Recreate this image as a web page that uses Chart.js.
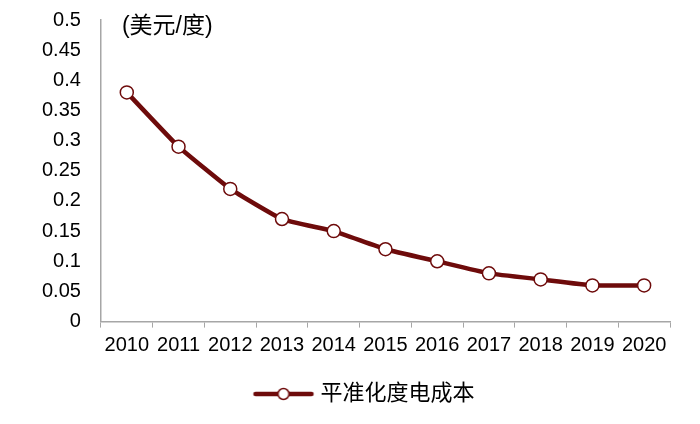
<!DOCTYPE html>
<html>
<head>
<meta charset="utf-8">
<script src="https://cdn.jsdelivr.net/npm/chart.js@4"></script>
<style>
  html, body { margin: 0; padding: 0; background: #fff; overflow: hidden; }
  /* shifted up: chart.js keeps ~30px above the plot that the original does not have */
  #wrap { width: 700px; height: 436px; margin-top: -12px; position: relative; }
</style>
</head>
<body>
<div id="wrap"><canvas id="myChart"></canvas></div>
<script>
// data
var years = ['2010','2011','2012','2013','2014','2015','2016','2017','2018','2019','2020'];
var lcoe = [0.38, 0.29, 0.22, 0.17, 0.15, 0.12, 0.10, 0.08, 0.07, 0.06, 0.06];
var yTickLabels = ['0','0.05','0.1','0.15','0.2','0.25','0.3','0.35','0.4','0.45','0.5'];
var seriesName = '平准化度电成本';
var unitLabel = '(美元/度)';

var lineColor = '#6e0b0b';
var fontFam = '"Liberation Sans", Arial, "Noto Sans CJK SC", sans-serif';

// little picture for the legend: line with an open circle
var legendIcon = document.createElement('canvas');
legendIcon.width = 66;
legendIcon.height = 14;
var lc = legendIcon.getContext('2d');
lc.strokeStyle = lineColor;
lc.lineWidth = 4.5;
lc.lineCap = 'round';
lc.beginPath(); lc.moveTo(5, 7); lc.lineTo(61, 7); lc.stroke();
lc.fillStyle = '#fff';
lc.lineWidth = 1.5;
lc.beginPath(); lc.arc(33, 7, 5.5, 0, Math.PI * 2); lc.fill(); lc.stroke();

var unitPlugin = {
  id: 'unitText',
  afterLayout: function(chart) {
    // legend sits a bit right of centre in the original
    chart.legend.left += 20;
    chart.legend.right += 20;
  },
  afterDraw: function(chart) {
    var c = chart.ctx;
    c.save();
    c.font = '23px ' + fontFam;
    c.fillStyle = '#000';
    c.textBaseline = 'middle';
    c.fillText(unitLabel, chart.chartArea.left + 21, chart.chartArea.top + 7);
    c.restore();
  }
};

var ctx = document.getElementById('myChart').getContext('2d');
var myChart = new Chart(ctx, {
  type: 'line',
  data: {
    labels: years,
    datasets: [{
      label: seriesName,
      data: lcoe,
      borderColor: lineColor,
      borderWidth: 4.5,
      backgroundColor: '#fff',
      pointBackgroundColor: '#fff',
      pointBorderColor: lineColor,
      pointBorderWidth: 1.5,
      pointRadius: 6.5,
      pointStyle: 'circle',
      tension: 0.12,
      fill: false
    }]
  },
  options: {
    responsive: true,
    maintainAspectRatio: false,
    animation: false,
    layout: { autoPadding: false, padding: { left: 22, right: 30, top: 7, bottom: 9 } },
    scales: {
      x: {
        offset: true,
        grid: { display: true, offset: true, drawOnChartArea: false, drawTicks: true, tickLength: 6, color: '#a6a6a6' },
        border: { display: true, color: '#a6a6a6', width: 1.5 },
        ticks: { color: '#000', font: { family: fontFam, size: 20 }, padding: 6, maxRotation: 0, autoSkip: false },
        title: { display: true, text: ' ', font: { size: 2 }, padding: { top: 0, bottom: 7 } }
      },
      y: {
        min: 0,
        max: 0.5,
        grid: { display: false, drawTicks: false },
        border: { display: true, color: '#a6a6a6', width: 1.5 },
        ticks: {
          stepSize: 0.05,
          color: '#000',
          padding: 20,
          font: { family: fontFam, size: 20 },
          callback: function(v, i) { return yTickLabels[i]; }
        }
      }
    },
    plugins: {
      legend: {
        position: 'bottom',
        labels: {
          usePointStyle: true,
          pointStyleWidth: 52,
          color: '#000',
          font: { family: fontFam, size: 22 },
          padding: 10,
          generateLabels: function(chart) {
            return [{ text: seriesName, pointStyle: legendIcon, fillStyle: '#fff', strokeStyle: lineColor, lineWidth: 0, datasetIndex: 0, hidden: false }];
          }
        }
      },
      tooltip: { enabled: false }
    }
  },
  plugins: [unitPlugin]
});
</script>
</body>
</html>
